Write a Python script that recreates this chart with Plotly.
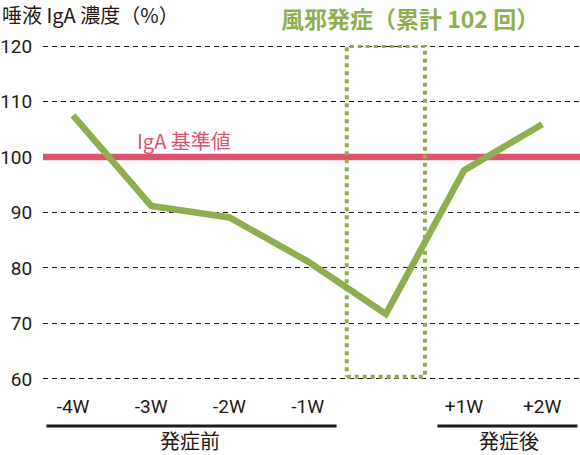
import plotly.graph_objects as go

# ---- data ----
categories = ["-4W", "-3W", "-2W", "-1W", "", "+1W", "+2W"]
iga_values = [107.5, 91.2, 89.1, 81.2, 71.7, 97.6, 105.9]
baseline = 100
y_ticks = [60, 70, 80, 90, 100, 110, 120]
onset_index = 4
group_labels = ["発症前", "発症後"]
group_ranges = [(0, 3), (5, 6)]

GREEN = "#8fae50"
RED = "#dc536e"
DARK = "#231815"
NUM = "Roboto, sans-serif"
JP = "Noto Sans CJK JP, sans-serif"

x_idx = list(range(len(categories)))
x_range = [-0.384, 6.483]
y_range = [59.8, 120.2]

fig = go.Figure()
# IgA baseline (drawn as a trace so it sits above the grid)
fig.add_trace(go.Scatter(
    x=x_range, y=[baseline, baseline], mode="lines",
    line=dict(color=RED, width=6.5), hoverinfo="skip", showlegend=False,
))
# cold-onset dotted box
bx0, bx1 = onset_index - 0.5, onset_index + 0.5
by0, by1 = y_ticks[0] + 0.4, y_ticks[-1]
fig.add_trace(go.Scatter(
    x=[bx0, bx1, bx1, bx0, bx0], y=[by0, by0, by1, by1, by0], mode="lines",
    line=dict(color=GREEN, width=4, dash="dot"), hoverinfo="skip", showlegend=False,
))
# IgA concentration
fig.add_trace(go.Scatter(
    x=x_idx, y=iga_values, mode="lines",
    line=dict(color=GREEN, width=6.5),
    hoverinfo="skip", showlegend=False,
))

shapes = []
annotations = []
for label, (a, b) in zip(group_labels, group_ranges):
    last = b == len(categories) - 1
    shapes.append(dict(type="line", xref="x", x0=a - 0.34, x1=b + (0.45 if last else 0.37),
                       yref="paper", y0=-0.137, y1=-0.137,
                       line=dict(color=DARK, width=3)))
    annotations.append(dict(text=label, xref="x", x=(a + b) / 2 + (0.07 if last else 0),
                            yref="paper", y=-0.182, showarrow=False,
                            xanchor="center", yanchor="middle", borderpad=0,
                            font=dict(family=JP, size=20, color=DARK)))

annotations += [
    dict(text="唾液 IgA 濃度（%）", xref="paper", x=-43 / 537, xanchor="left",
         yref="paper", y=1.0896, yanchor="middle", showarrow=False,
         font=dict(family=JP, size=20, color=DARK)),
    dict(text="<b>風邪発症（累計 102 回）</b>", xref="paper", x=(410 - 43) / 537, xanchor="center",
         yref="paper", y=1.08, yanchor="middle", showarrow=False,
         font=dict(family=JP, size=23, color=GREEN)),
    dict(text="IgA 基準値", xref="x", x=1.42, xanchor="center",
         yref="y", y=103, yanchor="middle", showarrow=False,
         font=dict(family=JP, size=20, color=RED)),
]

fig.update_layout(
    width=580, height=455,
    margin=dict(l=43, r=0, t=45, b=75, autoexpand=False),
    paper_bgcolor="white", plot_bgcolor="white",
    shapes=shapes, annotations=annotations,
    xaxis=dict(
        range=x_range, tickmode="array", tickvals=x_idx, ticktext=categories,
        showgrid=False, zeroline=False, showline=False, automargin=False,
        ticks="outside", ticklen=9, tickcolor="rgba(0,0,0,0)",
        tickfont=dict(family=NUM, size=19, color=DARK),
        fixedrange=True,
    ),
    yaxis=dict(
        range=y_range, tickmode="array", tickvals=y_ticks,
        showgrid=True, gridcolor=DARK, gridwidth=1, griddash="5px,4px",
        zeroline=False, showline=False, automargin=False,
        ticks="outside", ticklen=6, tickcolor="rgba(0,0,0,0)",
        tickfont=dict(family=NUM, size=19, color=DARK),
        fixedrange=True,
    ),
)

fig.write_html(
    "out.html",
    config={"displayModeBar": False},
    post_script="document.body.style.margin='0';document.body.style.padding='0';",
)
